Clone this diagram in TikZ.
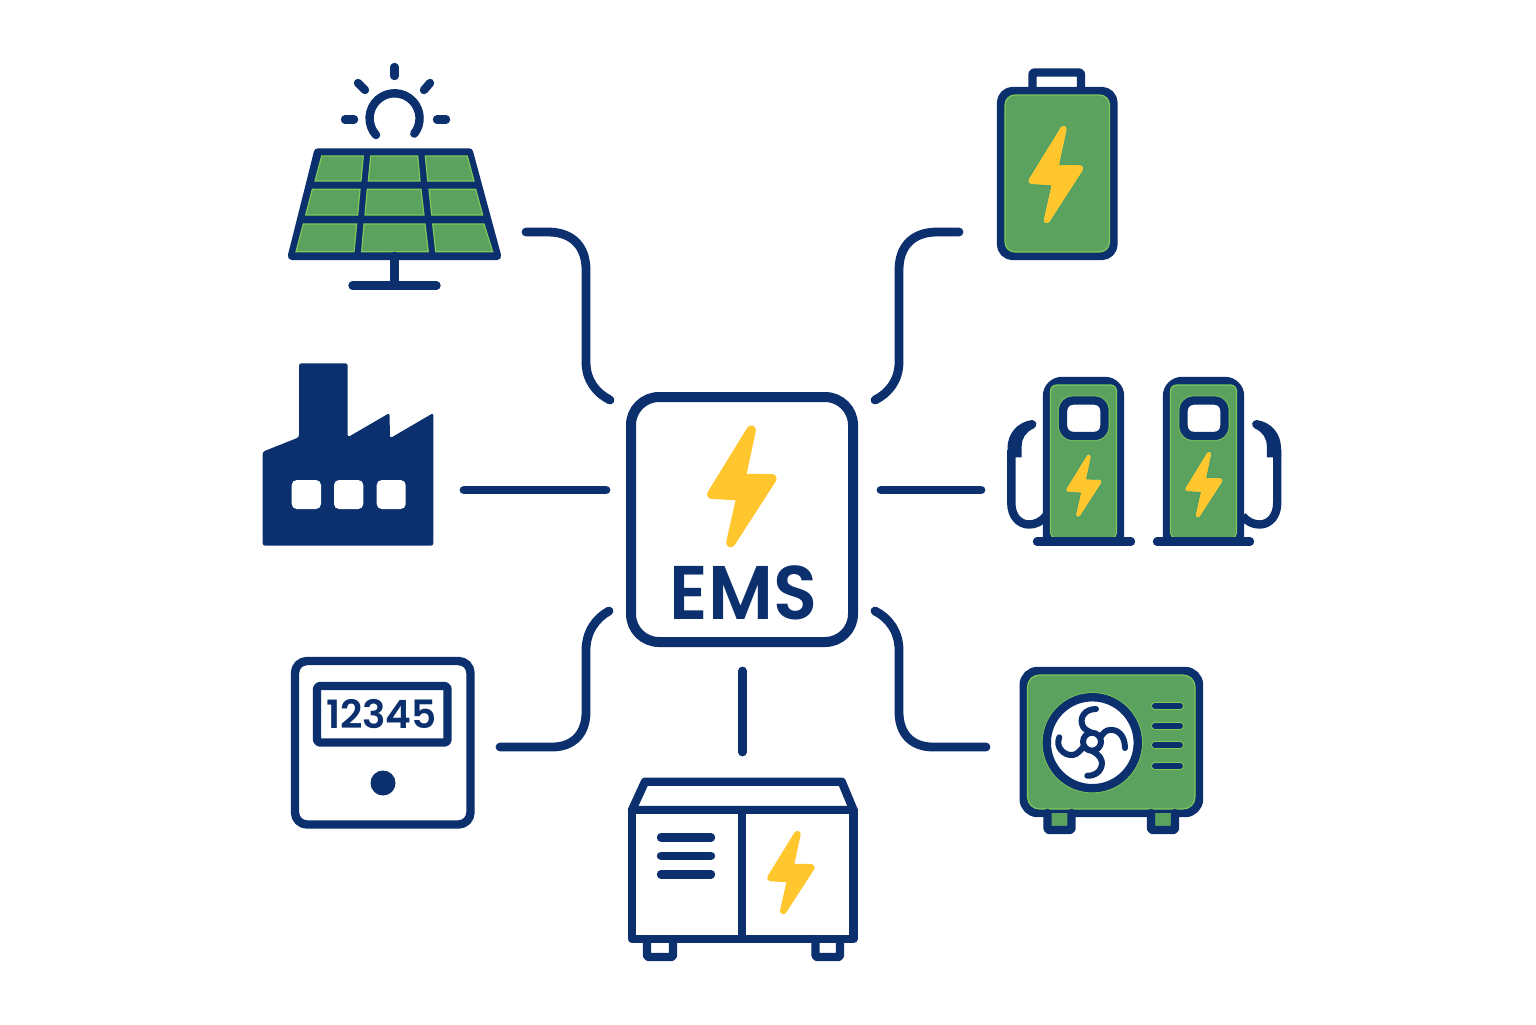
\documentclass[tikz,border=0pt]{standalone}
\usepackage{fontspec}
\newfontfamily\labelfont[FakeStretch=0.95]{Poppins SemiBold}
\newfontfamily\digitfont{Poppins SemiBold}
\definecolor{navy}{HTML}{0C2F6E}
\definecolor{cellgreen}{HTML}{5AA25E}
\definecolor{edgegreen}{HTML}{7FC85A}
\definecolor{tealedge}{HTML}{2F9E78}
\definecolor{boltyellow}{HTML}{FFC62E}
\tikzset{
	iconline/.style={draw=navy, line width=4.2pt, line join=round, line cap=round},
	wire/.style={draw=navy, line width=4.4pt, line cap=round},
	inset/.style={draw=edgegreen, line width=0.6pt, fill=cellgreen},
	emsbox/.style={draw=navy, line width=5pt, fill=white, rounded corners=14pt, minimum width=111pt, minimum height=122.5pt, inner sep=0pt}
}
\begin{document}
\begin{tikzpicture}[x=0.5pt, y=-0.5pt]
	\useasboundingbox (0,0) rectangle (1536,1024);
	\fill[white] (0,0) rectangle (1536,1024);
	\node[emsbox] (ems) at (742,519.5) {};
	\node[navy, font={\labelfont\fontsize{38}{38}\selectfont}] (emslabel) at (743.5,592.5) {EMS};
	\coordinate (hubnw) at (610,400);
	\coordinate (hubne) at (875,400);
	\coordinate (hubw) at (606,490);
	\coordinate (hube) at (881,490);
	\coordinate (hubsw) at (609,611);
	\coordinate (hubse) at (875,611);
	\coordinate (hubs) at (742.5,671);
	\coordinate (solarend) at (526,232);
	\coordinate (batteryend) at (959,232);
	\coordinate (factoryend) at (464,490);
	\coordinate (chargerend) at (981,490);
	\coordinate (meterend) at (500,747);
	\coordinate (pumpend) at (986,747);
	\coordinate (genend) at (742.5,752);
	\draw[wire] (solarend) -- (548,232) .. controls (572,232) and (586,246) .. (586,270) -- (586,362) .. controls (586,380) and (596,393) .. (hubnw);
	\draw[wire] (batteryend) -- (937,232) .. controls (913,232) and (899,246) .. (899,270) -- (899,362) .. controls (899,380) and (889,393) .. (hubne);
	\draw[wire] (factoryend) -- (hubw);
	\draw[wire] (chargerend) -- (hube);
	\draw[wire] (meterend) -- (552,747) .. controls (574,747) and (586,733) .. (586,712) -- (586,650) .. controls (586,632) and (596,618) .. (hubsw);
	\draw[wire] (pumpend) -- (933,747) .. controls (911,747) and (899,733) .. (899,712) -- (899,650) .. controls (899,632) and (889,618) .. (hubse);
	\draw[wire] (hubs) -- (genend);

	\draw[iconline] (376,135) arc (222:-38:12.5pt);
	\foreach \xa/\ya/\xb/\yb in {394.5/67/394.5/76, 358/83/365/90, 430/83/424/90, 345/119.5/354/119.5, 437/119.5/446/119.5} {
		\draw[iconline] (\xa,\ya) -- (\xb,\yb);
	}
	\draw[iconline, fill=navy] (318,152.5) -- (469,152.5) -- (497,256) -- (292,256) -- cycle;
	\foreach \ya/\yb/\a/\b/\c/\d in {156/181/321.7/363.3/361/315, 156/181/370.7/417.7/420/368.3, 156/181/425.3/467.3/474/427.7,
		189.3/215/312.3/360/357.7/305.7, 189.3/215/367.3/421/424/365, 189.3/215/429/475.7/482.7/431.7,
		224/251.7/303.3/356.7/354/296, 224/251.7/364/425/428.3/361.7, 224/251.7/432.7/484/492.7/435.7} {
		\draw[inset] (\a,\ya) -- (\b,\ya) -- (\c,\yb) -- (\d,\yb) -- cycle;
	}
	\draw[iconline] (394.5,256) -- (394.5,285.5);
	\draw[iconline] (352.5,285.5) -- (436.5,285.5);

	\fill[navy, rounded corners=1.2pt] (262.7,545.7) -- (262.7,451.7) -- (299,437.3) -- (299,363.3) -- (347.7,363.3) -- (347.7,437.3) -- (389.5,413) -- (390,438.3) -- (433.3,413) -- (433.3,545.7) -- cycle;
	\foreach \xa/\xb in {291.7/321, 334/363.3, 376.7/405.7} {
		\fill[white, rounded corners=2.5pt] (\xa,480) rectangle (\xb,509);
	}

	\draw[iconline, rounded corners=6pt, fill=white] (295,661) rectangle (470.5,824.5);
	\draw[iconline, rounded corners=1.5pt, fill=white] (317,686) rectangle (447.5,742.5);
	\node[navy, font={\digitfont\fontsize{19.5}{20}\selectfont}] (reading) at (381.5,714) {12345};
	\fill[navy] (383,783) circle (12.5);

	\draw[iconline, fill=white, rounded corners=1pt] (1032.5,91) -- (1032.5,72.5) -- (1081,72.5) -- (1081,91);
	\draw[iconline, rounded corners=6pt, fill=cellgreen] (1001,91) rectangle (1113.5,256);
	\draw[inset, rounded corners=5pt] (1005,95) rectangle (1109.5,252);

	\foreach \sh/\sc in {0/1, 2288.5/-1} {
		\begin{scope}[shift={(\sh,0)}, xscale=\sc]
			\fill[navy] (1032,420) .. controls (1037,420.5) and (1038,426) .. (1033.5,428.5) .. controls (1026,432) and (1021.7,438) .. (1021.7,446) -- (1021.7,457.3) -- (1007.5,457.3) -- (1007.5,448) .. controls (1007.5,434) and (1017,422) .. (1032,420) -- cycle;
			\draw[iconline, line cap=butt] (1011.3,450) -- (1011.3,503) .. controls (1011.3,516) and (1019,524.5) .. (1029,524.5) .. controls (1035,524.5) and (1041,522) .. (1046,516);
		\end{scope}
	}
	\foreach \xa/\xb/\wa/\wb/\ba/\bb in {1047/1120/1063/1104.5/1037/1131, 1167/1240/1183.5/1224.5/1157/1250} {
		\draw[iconline, fill=cellgreen] (\xa,541) -- (\xa,396) arc (180:90:7.5pt) -- (\xb-15,381) arc (90:0:7.5pt) -- (\xb,541);
		\draw[inset, rounded corners=3pt] (\xa+3.5,538) -- (\xa+3.5,385) -- (\xb-3.5,385) -- (\xb-3.5,538) -- cycle;
		\draw[edgegreen, line width=5pt, rounded corners=5pt] (\wa,400.5) rectangle (\wb,436);
		\draw[iconline, fill=white, rounded corners=5pt] (\wa,400.5) rectangle (\wb,436);
		\draw[iconline] (\ba,541.5) -- (\bb,541.5);
	}

	\draw[iconline, rounded corners=7pt, fill=cellgreen] (1023.7,671) rectangle (1199,813);
	\draw[inset, rounded corners=6pt] (1027.5,675) rectangle (1195,809);
	\foreach \xa/\xb in {1047.5/1071.5, 1151/1175} {
		\draw[iconline, fill=cellgreen, rounded corners=1pt] (\xa,813) -- (\xa,830) -- (\xb,830) -- (\xb,813);
	}
	\draw[edgegreen, line width=5pt] (1092.3,742.7) circle (45.5);
	\draw[iconline, fill=white] (1092.3,742.7) circle (45.5);
	\draw[iconline, line width=3pt] (1092,741.7) circle (9);
	\draw[iconline, line width=3pt] (1096,709) .. controls (1085,709) and (1080,717) .. (1082,724) .. controls (1083,729) and (1088,731) .. (1092,733);
	\draw[iconline, line width=3pt] (1125,748) .. controls (1125,735) and (1117,729) .. (1110,730) .. controls (1106,730) and (1103,733) .. (1100.7,737);
	\draw[iconline, line width=3pt] (1087.3,775.7) .. controls (1097,776) and (1103,769) .. (1101.7,761) .. controls (1100.5,756) and (1096,753) .. (1091.7,750.7);
	\draw[iconline, line width=3pt] (1059.3,737.3) .. controls (1055,747) and (1064,756) .. (1073,755) .. controls (1077,754.5) and (1081,750) .. (1084,746);
	\foreach \y in {706, 725.7, 745.3, 766} {
		\draw[edgegreen, line width=4pt, line cap=round] (1155,\y) -- (1180,\y);
		\draw[iconline, line width=3pt] (1155,\y) -- (1180,\y);
	}

	\draw[iconline, fill=white] (632,810) -- (645,781.7) -- (841.7,781.7) -- (853.5,810) -- cycle;
	\draw[iconline, fill=white] (632,810) rectangle (853.5,939);
	\draw[iconline] (741.7,810) -- (741.7,939);
	\foreach \y in {837.3, 855.7, 874.3} {
		\draw[iconline] (661,\y) -- (711,\y);
	}
	\foreach \xa/\xb in {647/673, 815.5/840} {
		\draw[iconline, rounded corners=1pt] (\xa,939) -- (\xa,957) -- (\xb,957) -- (\xb,939);
	}

	\foreach \bx/\by/\bs/\be in {742/487/1/boltyellow, 1056/175/0.81/tealedge, 1084/486/0.52/tealedge, 1204/485/0.55/tealedge, 791/873/0.68/boltyellow} {
		\draw[\be, line width=\bs*4pt+0.6pt, line join=round, shift={(\bx,\by)}, scale=\bs]
			(9.3,-57) -- (-1,-8.7) -- (30,-8.3) -- (-11.3,55.7) -- (-0.7,9) -- (-30.3,7.3) -- cycle;
		\filldraw[fill=boltyellow, draw=boltyellow, line width=\bs*4pt, line join=round, shift={(\bx,\by)}, scale=\bs]
			(9.3,-57) -- (-1,-8.7) -- (30,-8.3) -- (-11.3,55.7) -- (-0.7,9) -- (-30.3,7.3) -- cycle;
	}
\end{tikzpicture}
\end{document}
